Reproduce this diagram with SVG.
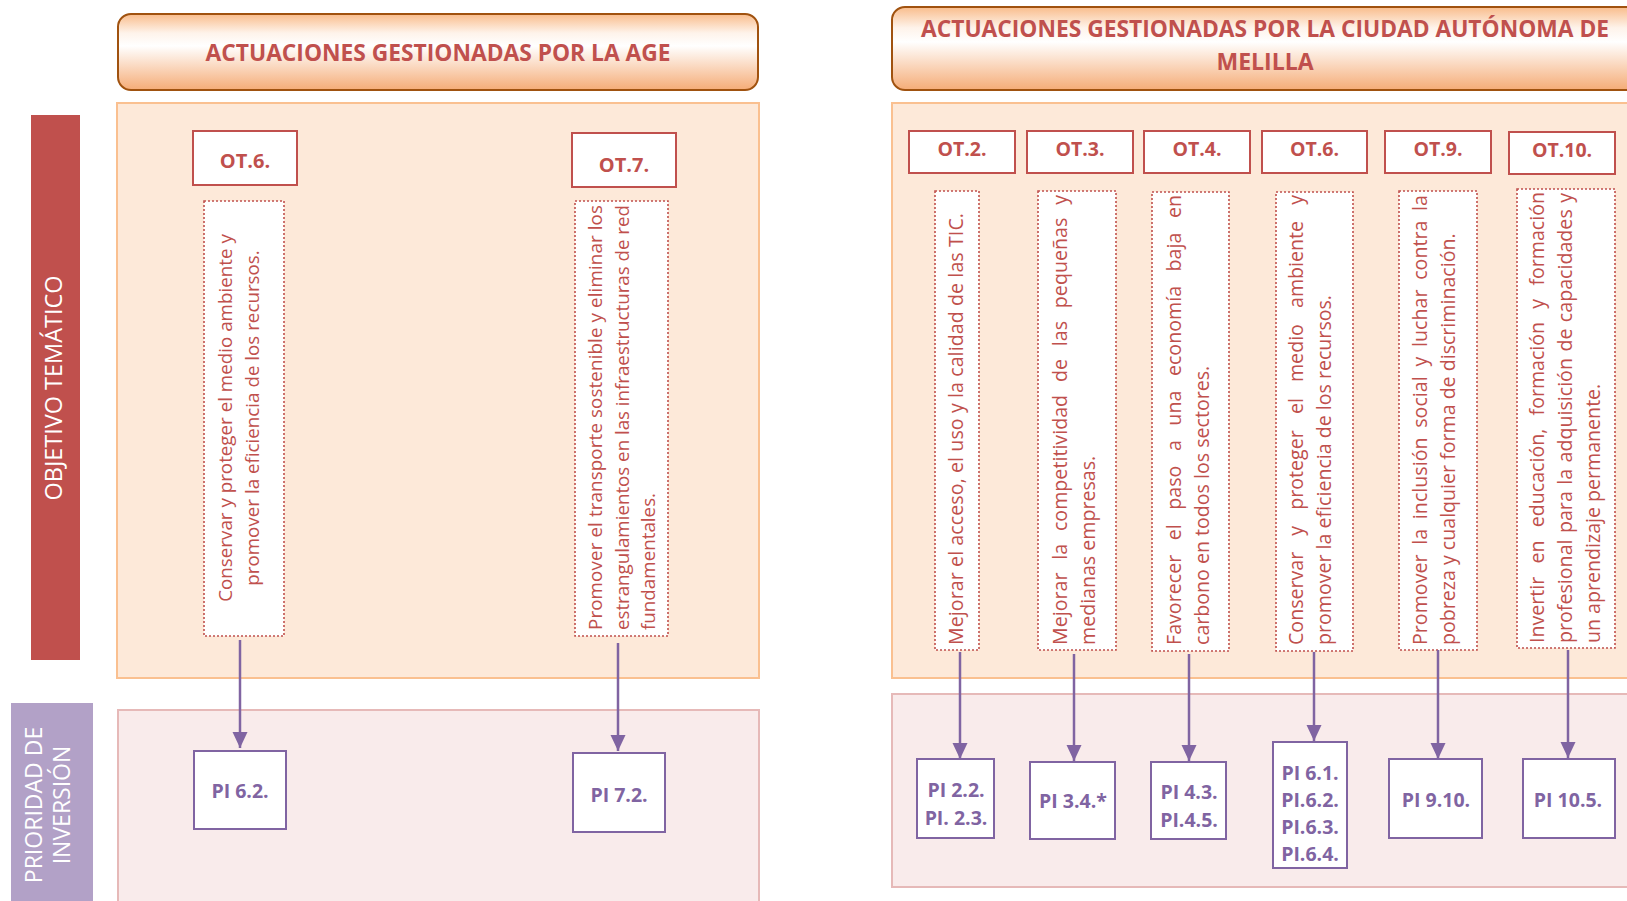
<svg xmlns="http://www.w3.org/2000/svg" width="1627" height="901" viewBox="0 0 1627 901">
<defs>
<linearGradient id="hdr" x1="0" y1="0" x2="0" y2="1">
<stop offset="0" stop-color="#F9BC8B"/>
<stop offset="0.25" stop-color="#FEF3EA"/>
<stop offset="0.42" stop-color="#FFFFFF"/>
<stop offset="1" stop-color="#F5AC77"/>
</linearGradient>
<marker id="ah" markerUnits="userSpaceOnUse" markerWidth="16" markerHeight="16" refX="16" refY="8" orient="auto">
<path d="M0,0.5 L16,8 L0,15.5 Z" fill="#8064A2"/>
</marker>
</defs>
<style>
.hdr{fill:url(#hdr);stroke:#A0520F;stroke-width:2}
.title{font-family:"Open Sans","Liberation Sans",sans-serif;font-weight:bold;font-size:23px;fill:#C0504D;text-anchor:middle}
.up{fill:#FDE9D9;stroke:#FAC090;stroke-width:2}
.lo{fill:#F9EBEB;stroke:#E6B9B8;stroke-width:2}
.side{font-family:"Open Sans","Liberation Sans",sans-serif;font-size:23px;fill:#FFFFFF;text-anchor:middle}
.ot{fill:#FFFFFF;stroke:#C0504D;stroke-width:2}
.otl{font-family:"Open Sans","Liberation Sans",sans-serif;font-weight:bold;font-size:20px;fill:#C0504D;text-anchor:middle}
.otr{font-family:"Open Sans","Liberation Sans",sans-serif;font-weight:bold;font-size:19.5px;fill:#C0504D;text-anchor:middle}
.dot{fill:#FFFFFF;stroke:#C0504D;stroke-width:1.6;stroke-dasharray:2 2}
.tl{font-family:"Open Sans","Liberation Sans",sans-serif;font-size:18.8px;fill:#C0504D}
.tr{font-family:"Open Sans","Liberation Sans",sans-serif;font-size:19.6px;fill:#C0504D}
.pi{fill:#FFFFFF;stroke:#8064A2;stroke-width:2}
.pil{font-family:"Open Sans","Liberation Sans",sans-serif;font-weight:bold;font-size:19.5px;fill:#8064A2;text-anchor:middle}
.con{stroke:#8064A2;stroke-width:2.5;fill:none;marker-end:url(#ah)}
</style>
<rect width="1627" height="901" fill="#FFFFFF"/>

<!-- panels -->
<g id="panels">
<rect class="up" x="117" y="103" width="642" height="575"/>
<rect class="lo" x="118" y="710" width="641" height="200"/>
<rect class="up" x="892" y="103" width="770" height="575"/>
<rect class="lo" x="892" y="694" width="770" height="193"/>
</g>

<!-- sidebars -->
<g id="side-ot">
<rect x="31" y="115" width="49" height="545" fill="#C0504D"/>
<text class="side" transform="translate(62,388) rotate(-90)" textLength="225" lengthAdjust="spacingAndGlyphs">OBJETIVO TEMÁTICO</text>
</g>
<g id="side-pi">
<rect x="11" y="703" width="82" height="205" fill="#B2A1C7"/>
<text class="side" transform="translate(42,805) rotate(-90)"><tspan x="0" y="0">PRIORIDAD DE</tspan><tspan x="0" y="28">INVERSIÓN</tspan></text>
</g>

<!-- headers -->
<g id="hdr-age">
<rect class="hdr" x="118" y="14" width="640" height="76" rx="13"/>
<text class="title" x="438" y="61" textLength="465" lengthAdjust="spacingAndGlyphs">ACTUACIONES GESTIONADAS POR LA AGE</text>
</g>
<g id="hdr-melilla">
<rect class="hdr" x="892" y="7" width="770" height="83" rx="13"/>
<text class="title" x="1265" y="37" textLength="688" lengthAdjust="spacingAndGlyphs">ACTUACIONES GESTIONADAS POR LA CIUDAD AUTÓNOMA DE</text>
<text class="title" x="1265" y="70">MELILLA</text>
</g>

<!-- AGE column OT.6 -->
<g id="ot6-age">
<rect class="ot" x="193" y="131" width="104" height="54"/>
<text class="otl" x="245" y="168">OT.6.</text>
</g>
<g id="ot6-age-desc">
<rect class="dot" x="204" y="201" width="80" height="435"/>
<text class="tl" text-anchor="middle" transform="translate(232,418) rotate(-90)"><tspan x="0" y="0">Conservar y proteger el medio ambiente y</tspan><tspan x="0" y="27">promover la eficiencia de los recursos.</tspan></text>
</g>
<g id="pi62-age">
<rect class="pi" x="194" y="751" width="92" height="78"/>
<text class="pil" x="240" y="798">PI 6.2.</text>
</g>

<!-- AGE column OT.7 -->
<g id="ot7-age">
<rect class="ot" x="572" y="133" width="104" height="54"/>
<text class="otl" x="624" y="172">OT.7.</text>
</g>
<g id="ot7-age-desc">
<rect class="dot" x="575" y="201" width="93" height="435"/>
<text class="tl" transform="translate(602,630) rotate(-90)"><tspan x="0" y="0" textLength="425" lengthAdjust="spacing">Promover el transporte sostenible y eliminar los</tspan><tspan x="0" y="26.7" textLength="425" lengthAdjust="spacing">estrangulamientos en las infraestructuras de red</tspan><tspan x="0" y="53.4">fundamentales.</tspan></text>
</g>
<g id="pi72-age">
<rect class="pi" x="573" y="753" width="92" height="79"/>
<text class="pil" x="619" y="802">PI 7.2.</text>
</g>

<!-- Melilla OT boxes -->
<g id="ot2">
<rect class="ot" x="909" y="131" width="106" height="42"/>
<text class="otr" x="962" y="156">OT.2.</text>
</g>
<g id="ot3">
<rect class="ot" x="1027" y="131" width="106" height="42"/>
<text class="otr" x="1080" y="156">OT.3.</text>
</g>
<g id="ot4">
<rect class="ot" x="1144" y="131" width="106" height="42"/>
<text class="otr" x="1197" y="156">OT.4.</text>
</g>
<g id="ot6">
<rect class="ot" x="1262" y="131" width="105" height="42"/>
<text class="otr" x="1314.5" y="156">OT.6.</text>
</g>
<g id="ot9">
<rect class="ot" x="1385" y="131" width="106" height="42"/>
<text class="otr" x="1438" y="156">OT.9.</text>
</g>
<g id="ot10">
<rect class="ot" x="1509" y="132" width="106" height="42"/>
<text class="otr" x="1562" y="157">OT.10.</text>
</g>

<!-- Melilla descriptions -->
<g id="ot2-desc">
<rect class="dot" x="935" y="191" width="44" height="459"/>
<text class="tr" transform="translate(963,645) rotate(-90)"><tspan x="0" y="0" textLength="432" lengthAdjust="spacing">Mejorar el acceso, el uso y la calidad de las TIC.</tspan></text>
</g>
<g id="ot3-desc">
<rect class="dot" x="1038" y="191" width="78" height="459"/>
<text class="tr" transform="translate(1067,645) rotate(-90)"><tspan x="0" y="0" word-spacing="7.7" textLength="450" lengthAdjust="spacing">Mejorar la competitividad de las pequeñas y</tspan><tspan x="0" y="28" word-spacing="0">medianas empresas.</tspan></text>
</g>
<g id="ot4-desc">
<rect class="dot" x="1152" y="192" width="77" height="459"/>
<text class="tr" transform="translate(1181,645) rotate(-90)"><tspan x="0" y="0" word-spacing="9.4" textLength="450" lengthAdjust="spacing">Favorecer el paso a una economía baja en</tspan><tspan x="0" y="28" word-spacing="0">carbono en todos los sectores.</tspan></text>
</g>
<g id="ot6-desc">
<rect class="dot" x="1276" y="192" width="77" height="459"/>
<text class="tr" transform="translate(1303,645) rotate(-90)"><tspan x="0" y="0" word-spacing="11" textLength="450" lengthAdjust="spacing">Conservar y proteger el medio ambiente y</tspan><tspan x="0" y="28" word-spacing="0">promover la eficiencia de los recursos.</tspan></text>
</g>
<g id="ot9-desc">
<rect class="dot" x="1399" y="191" width="78" height="459"/>
<text class="tr" transform="translate(1427,645) rotate(-90)"><tspan x="0" y="0" word-spacing="4.6" textLength="450" lengthAdjust="spacing">Promover la inclusión social y luchar contra la</tspan><tspan x="0" y="28" word-spacing="0">pobreza y cualquier forma de discriminación.</tspan></text>
</g>
<g id="ot10-desc">
<rect class="dot" x="1517" y="189" width="98" height="459"/>
<text class="tr" transform="translate(1544,643) rotate(-90)"><tspan x="0" y="0" word-spacing="8.2" textLength="451" lengthAdjust="spacing">Invertir en educación, formación y formación</tspan><tspan x="0" y="28" word-spacing="1.3" textLength="450" lengthAdjust="spacing">profesional para la adquisición de capacidades y</tspan><tspan x="0" y="56" word-spacing="0">un aprendizaje permanente.</tspan></text>
</g>

<!-- Melilla PI boxes -->
<g id="pi2">
<rect class="pi" x="917" y="759" width="77" height="79"/>
<text class="pil" x="956" y="797">PI 2.2.</text>
<text class="pil" x="956" y="825">PI. 2.3.</text>
</g>
<g id="pi3">
<rect class="pi" x="1030" y="762" width="85" height="77"/>
<text class="pil" x="1073" y="808">PI 3.4.*</text>
</g>
<g id="pi4">
<rect class="pi" x="1151" y="762" width="75" height="77"/>
<text class="pil" x="1189" y="799">PI 4.3.</text>
<text class="pil" x="1189" y="827">PI.4.5.</text>
</g>
<g id="pi6">
<rect class="pi" x="1273" y="742" width="74" height="126"/>
<text class="pil" x="1310" y="780">PI 6.1.</text>
<text class="pil" x="1310" y="807">PI.6.2.</text>
<text class="pil" x="1310" y="834">PI.6.3.</text>
<text class="pil" x="1310" y="861">PI.6.4.</text>
</g>
<g id="pi9">
<rect class="pi" x="1389" y="759" width="93" height="79"/>
<text class="pil" x="1436" y="807">PI 9.10.</text>
</g>
<g id="pi10">
<rect class="pi" x="1523" y="759" width="92" height="79"/>
<text class="pil" x="1568" y="807">PI 10.5.</text>
</g>

<!-- connectors -->
<g id="connectors">
<line class="con" x1="240" y1="640" x2="240" y2="748"/>
<line class="con" x1="618" y1="643" x2="618" y2="751"/>
<line class="con" x1="960" y1="652" x2="960" y2="759"/>
<line class="con" x1="1074" y1="654" x2="1074" y2="761"/>
<line class="con" x1="1189" y1="654" x2="1189" y2="761"/>
<line class="con" x1="1314" y1="652" x2="1314" y2="741"/>
<line class="con" x1="1438" y1="650" x2="1438" y2="759"/>
<line class="con" x1="1568" y1="650" x2="1568" y2="758"/>
</g>
</svg>
